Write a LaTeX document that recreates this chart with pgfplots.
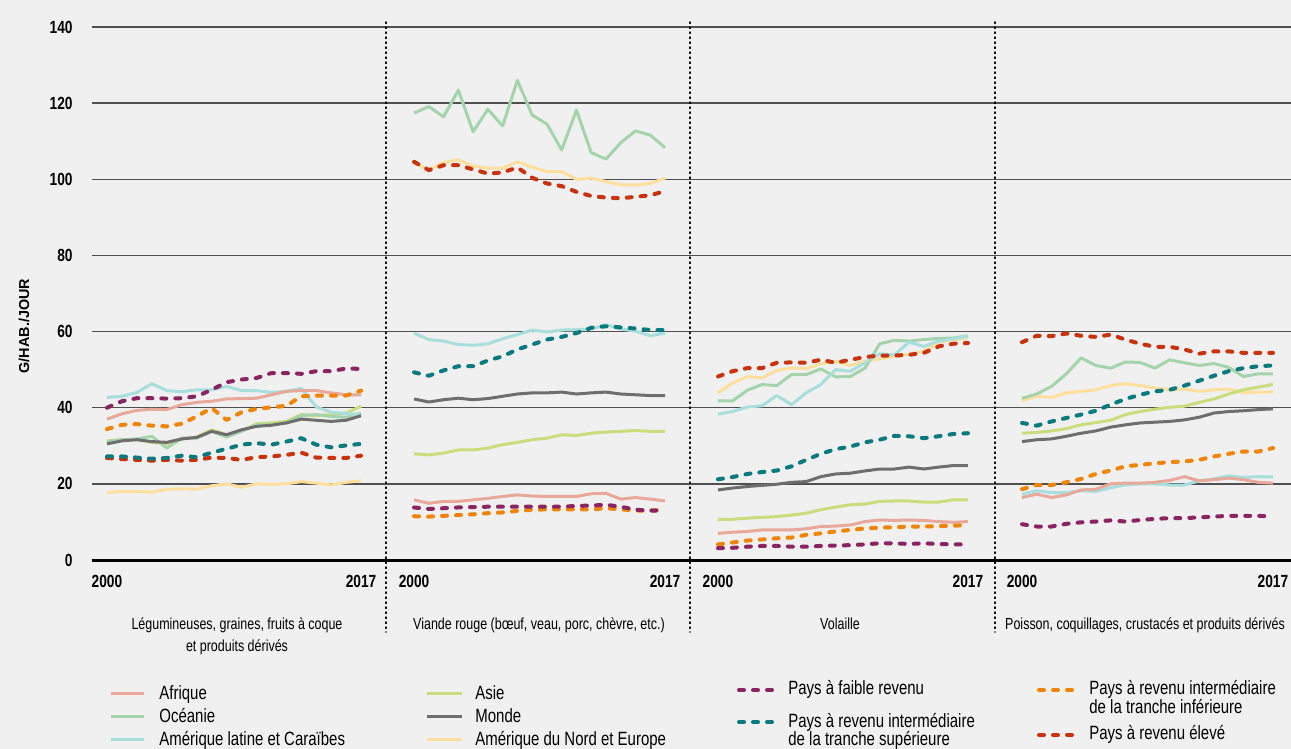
\documentclass[border=0pt]{standalone}
\usepackage{fontspec}
\setmainfont{Liberation Sans}[FakeStretch=0.78]
\newfontfamily\labfont{Liberation Sans}
\usepackage{pgfplots}
\usepackage{pgfplotstable}
\pgfplotsset{compat=1.18}

\definecolor{bg}{HTML}{F0F0F0}
\definecolor{gridc}{HTML}{505050}
\definecolor{cafr}{HTML}{E8A99B}
\definecolor{coce}{HTML}{A5D4AC}
\definecolor{calc}{HTML}{A8DEDC}
\definecolor{casie}{HTML}{CADD7C}
\definecolor{cmonde}{HTML}{6E6E6E}
\definecolor{cane}{HTML}{FFDF9E}
\definecolor{clow}{HTML}{8A2462}
\definecolor{cumid}{HTML}{08797D}
\definecolor{clmid}{HTML}{F08400}
\definecolor{chigh}{HTML}{C8320C}

\tikzset{
  reg/.style={line width=1.5pt, line join=round},
  inc/.style={line width=2pt, line cap=round, line join=round, dash pattern=on 2.5pt off 4.5pt},
  sep/.style={line width=0.7pt, dash pattern=on 0.7pt off 1.8pt, line cap=round},
}

% g/hab./jour, 2000-2017
\pgfplotstableread{
year afr oce alc asie monde ane low umid lmid high
2000 37.0 31.1 42.7 31.3 30.5 17.7 40.0 27.2 34.4 26.8
2001 38.4 31.6 43.0 31.6 31.3 18.0 41.7 27.2 35.5 26.5
2002 39.3 31.8 44.0 31.6 31.6 18.0 42.5 26.9 35.7 26.3
2003 39.6 32.5 46.3 30.9 31.1 17.8 42.5 26.6 35.3 26.1
2004 39.5 29.4 44.5 30.5 30.9 18.6 42.4 26.8 35.1 26.3
2005 40.8 32.0 44.2 31.8 31.8 18.7 42.5 27.4 35.8 26.1
2006 41.4 32.0 44.7 32.3 32.2 18.6 43.0 27.0 37.7 26.3
2007 41.7 33.8 44.7 34.2 33.8 19.5 44.7 28.2 39.9 26.9
2008 42.3 32.3 45.6 32.9 32.9 20.0 46.7 29.2 36.8 26.8
2009 42.4 33.8 44.5 33.8 34.2 19.1 47.4 30.3 38.8 26.3
2010 42.5 35.5 44.5 35.8 35.1 20.0 47.8 30.7 39.7 27.0
2011 43.4 35.5 44.0 36.0 35.4 19.9 49.1 30.3 40.1 27.2
2012 44.3 36.1 44.3 36.4 36.0 20.0 49.1 31.1 40.5 27.6
2013 44.5 37.9 45.1 38.2 37.0 20.6 48.9 32.0 43.0 28.2
2014 44.5 38.2 40.2 37.9 36.7 20.2 49.6 30.3 43.2 26.9
2015 43.9 37.7 38.8 38.2 36.4 19.7 49.6 29.6 43.2 26.8
2016 43.4 37.5 38.5 38.6 36.7 20.4 50.3 30.1 43.2 26.8
2017 43.4 38.6 38.2 40.4 37.9 20.8 50.2 30.5 44.5 27.4
}\legum

\pgfplotstableread{
year afr oce alc asie monde ane low umid lmid high
2000 15.8 117.4 59.6 27.9 42.3 104.2 13.8 49.3 11.5 104.6
2001 14.9 119.1 57.9 27.6 41.5 102.6 13.4 48.4 11.4 102.4
2002 15.4 116.4 57.5 28.1 42.1 104.4 13.6 49.8 11.6 103.7
2003 15.4 123.4 56.6 28.9 42.5 105.1 13.8 50.9 11.8 103.7
2004 15.8 112.5 56.4 28.9 42.1 103.5 13.9 50.9 12.0 102.6
2005 16.2 118.4 56.8 29.4 42.4 102.9 14.0 52.4 12.3 101.5
2006 16.7 114.0 58.1 30.3 43.0 102.9 14.0 53.5 12.5 101.8
2007 17.1 126.0 59.2 30.9 43.6 104.6 14.0 55.3 12.9 103.1
2008 16.8 116.9 60.4 31.6 43.9 103.2 14.0 56.6 13.2 100.4
2009 16.7 114.5 59.9 32.0 43.9 102.0 14.0 57.9 13.3 98.9
2010 16.7 107.7 60.4 32.9 44.1 102.0 14.0 58.6 13.3 98.2
2011 16.7 118.2 60.5 32.7 43.6 100.0 14.2 59.6 13.3 96.7
2012 17.4 107.0 60.7 33.3 43.9 100.3 14.3 61.0 13.3 95.6
2013 17.5 105.3 61.8 33.6 44.1 99.4 14.5 61.4 13.6 95.2
2014 16.0 109.6 60.7 33.8 43.6 98.5 14.0 61.1 13.3 95.0
2015 16.4 112.7 60.1 34.0 43.4 98.5 13.2 60.8 13.0 95.4
2016 16.0 111.6 58.9 33.8 43.2 98.9 13.0 60.4 13.0 95.8
2017 15.5 108.3 59.6 33.8 43.2 100.3 13.0 60.4 13.2 96.9
}\viande

\pgfplotstableread{
year afr oce alc asie monde ane low umid lmid high
2000 7.0 41.8 38.3 10.7 18.4 43.9 3.1 21.2 4.1 48.2
2001 7.3 41.8 39.0 10.7 18.9 46.5 3.2 21.8 4.6 49.6
2002 7.5 44.6 40.2 11.0 19.3 48.2 3.5 22.6 5.1 50.4
2003 7.9 46.1 40.5 11.2 19.6 47.8 3.7 23.1 5.4 50.4
2004 7.9 45.8 43.2 11.4 19.9 49.8 3.7 23.5 5.7 51.8
2005 7.9 48.7 40.8 11.8 20.4 50.4 3.5 24.6 5.9 51.9
2006 8.2 48.7 43.9 12.3 20.6 50.3 3.5 26.3 6.6 51.8
2007 8.8 50.2 46.1 13.2 21.9 51.5 3.7 27.9 7.0 52.6
2008 8.9 48.1 50.0 13.9 22.6 52.2 3.8 29.1 7.5 51.8
2009 9.2 48.2 49.6 14.5 22.8 51.1 3.9 29.8 7.9 52.6
2010 10.1 50.4 51.8 14.7 23.4 52.2 4.1 30.9 8.3 53.3
2011 10.5 56.8 54.2 15.4 23.9 52.8 4.4 31.6 8.5 53.7
2012 10.4 57.7 53.9 15.5 23.9 53.5 4.4 32.6 8.6 53.7
2013 10.5 57.5 57.2 15.5 24.4 54.1 4.2 32.5 8.8 53.9
2014 10.4 57.9 56.1 15.2 23.9 54.8 4.4 32.0 8.8 54.4
2015 10.1 58.2 57.5 15.2 24.4 57.2 4.2 32.5 8.9 56.1
2016 9.9 58.3 58.1 15.8 24.8 57.9 4.1 33.1 9.0 56.8
2017 10.1 58.9 58.8 15.8 24.8 58.3 4.1 33.3 9.2 57.0
}\volaille

\pgfplotstableread{
year afr oce alc asie monde ane low umid lmid high
2000 16.4 42.5 17.3 33.3 31.1 41.9 9.4 36.0 18.6 57.2
2001 17.3 43.6 18.2 33.5 31.6 43.0 8.8 35.3 19.7 58.9
2002 16.4 45.6 17.7 33.9 31.8 42.7 8.8 36.4 19.7 58.8
2003 17.1 48.9 17.7 34.5 32.5 43.9 9.5 37.3 20.4 59.5
2004 18.4 53.1 18.2 35.5 33.3 44.3 9.9 38.2 21.3 58.9
2005 18.6 51.1 18.0 36.1 33.9 44.7 10.1 39.2 22.6 58.6
2006 20.0 50.4 19.0 36.7 34.9 45.8 10.4 40.8 23.5 59.2
2007 20.2 52.0 19.7 38.2 35.5 46.3 10.1 42.3 24.6 57.9
2008 20.2 51.9 20.0 39.0 36.0 45.8 10.5 43.4 25.0 56.8
2009 20.4 50.4 20.0 39.6 36.2 45.2 10.8 44.3 25.4 56.0
2010 20.9 52.6 19.7 40.1 36.4 44.7 11.0 44.7 25.7 56.0
2011 21.9 51.8 19.7 40.4 36.8 44.9 11.0 45.8 25.9 55.3
2012 20.8 51.1 20.8 41.4 37.5 44.3 11.2 47.1 26.3 54.2
2013 21.1 51.6 21.3 42.3 38.6 44.7 11.4 48.4 27.2 54.8
2014 21.5 50.6 22.1 43.6 39.0 44.9 11.6 49.6 27.9 54.8
2015 21.1 48.2 21.7 44.7 39.2 43.9 11.6 50.4 28.5 54.4
2016 20.4 48.9 21.9 45.4 39.5 44.1 11.6 50.9 28.5 54.4
2017 20.2 48.9 21.8 46.1 39.7 44.1 11.4 51.1 29.4 54.4
}\poisson

\pgfplotsset{
  panel/.style={
    scale only axis, height=266.5pt, anchor=south west,
    ymin=0, ymax=140, ytick={0,20,...,140},
    xtick={2000,2017}, xticklabels={2000,2017},
    axis x line*=bottom, axis y line*=left,
    x axis line style={-, black, line width=1.5pt},
    y axis line style={draw=none},
    major tick length=0pt,
    ymajorgrids, grid style={gridc, line width=0.7pt},
    ticklabel style={font=\fontsize{8.8}{10}\selectfont\bfseries, inner sep=0pt},
    xticklabel style={yshift=-7.5pt},
    yticklabel style={xshift=-9.5pt},
    /pgf/number format/assume math mode=true,
  },
}

\newcommand{\allseries}[1]{%
  \addplot[reg, cane] table[x=year, y=ane] {#1};
  \addplot[reg, casie] table[x=year, y=asie] {#1};
  \addplot[reg, coce] table[x=year, y=oce] {#1};
  \addplot[reg, calc] table[x=year, y=alc] {#1};
  \addplot[reg, cafr] table[x=year, y=afr] {#1};
  \addplot[reg, cmonde] table[x=year, y=monde] {#1};
  \addplot[inc, chigh] table[x=year, y=high] {#1};
  \addplot[inc, clmid] table[x=year, y=lmid] {#1};
  \addplot[inc, cumid] table[x=year, y=umid] {#1};
  \addplot[inc, clow] table[x=year, y=low] {#1};
}

\newcommand{\legfont}{\fontsize{9.6}{9.6}\selectfont}
\newcommand{\titfont}{\fontsize{8}{8}\selectfont}

\begin{document}
\begin{tikzpicture}[x=0.5pt, y=-0.5pt]
\path[use as bounding box, fill=bg] (0,0) rectangle (1291,749);

\begin{axis}[panel, at={(46pt,-280pt)}, width=147pt,
    xmin=1998.996, xmax=2018.67,
    ylabel={G/HAB./JOUR},
    ylabel style={at={(axis description cs:-0.231,0.439)}, anchor=center,
      font=\labfont\fontsize{7.2}{8}\selectfont\bfseries}]
  \allseries{\legum}
\end{axis}

\begin{axis}[panel, at={(193pt,-280pt)}, width=152pt,
    xmin=1998.10, xmax=2018.69, yticklabels={}]
  \allseries{\viande}
\end{axis}

\begin{axis}[panel, at={(345pt,-280pt)}, width=152.5pt,
    xmin=1998.10, xmax=2018.84, yticklabels={}]
  \allseries{\volaille}
\end{axis}

\begin{axis}[panel, at={(497.5pt,-280pt)}, width=148pt,
    xmin=1998.17, xmax=2018.22, yticklabels={}]
  \allseries{\poisson}
\end{axis}

% separateurs
\foreach \xs in {386,690,995} \draw[sep] (\xs,22) -- (\xs,632);

% titres des panneaux
\begin{scope}[every node/.style={font=\titfont, inner sep=0pt, anchor=base}]
  \node at (237,629) {Légumineuses, graines, fruits à coque};
  \node at (237,651) {et produits dérivés};
  \node at (539,629) {Viande rouge (bœuf, veau, porc, chèvre, etc.)};
  \node at (840,629) {Volaille};
  \node at (1145,629) {Poisson, coquillages, crustacés et produits dérivés};
\end{scope}

% légende
\begin{scope}[every node/.style={font=\legfont, inner sep=0pt, anchor=base west}]
  \draw[reg, cafr] (111,693) -- (144,693);
  \node at (159,699) {Afrique};
  \draw[reg, coce] (111,716) -- (144,716);
  \node at (159,722) {Océanie};
  \draw[reg, calc] (111,739) -- (144,739);
  \node at (159,745) {Amérique latine et Caraïbes};

  \draw[reg, casie] (427,693) -- (462,693);
  \node at (475,699) {Asie};
  \draw[reg, cmonde] (427,716) -- (462,716);
  \node at (475,722) {Monde};
  \draw[reg, cane] (427,739) -- (462,739);
  \node at (475,745) {Amérique du Nord et Europe};

  \draw[inc, clow] (739,690) -- (775,690);
  \node at (788,694) {Pays à faible revenu};
  \draw[inc, cumid] (739,722) -- (775,722);
  \node at (788,727) {Pays à revenu intermédiaire};
  \node at (788,745) {de la tranche supérieure};

  \draw[inc, clmid] (1039,690) -- (1075,690);
  \node at (1089,694) {Pays à revenu intermédiaire};
  \node at (1089,713) {de la tranche inférieure};
  \draw[inc, chigh] (1039,735) -- (1075,735);
  \node at (1089,739) {Pays à revenu élevé};
\end{scope}
\end{tikzpicture}
\end{document}
